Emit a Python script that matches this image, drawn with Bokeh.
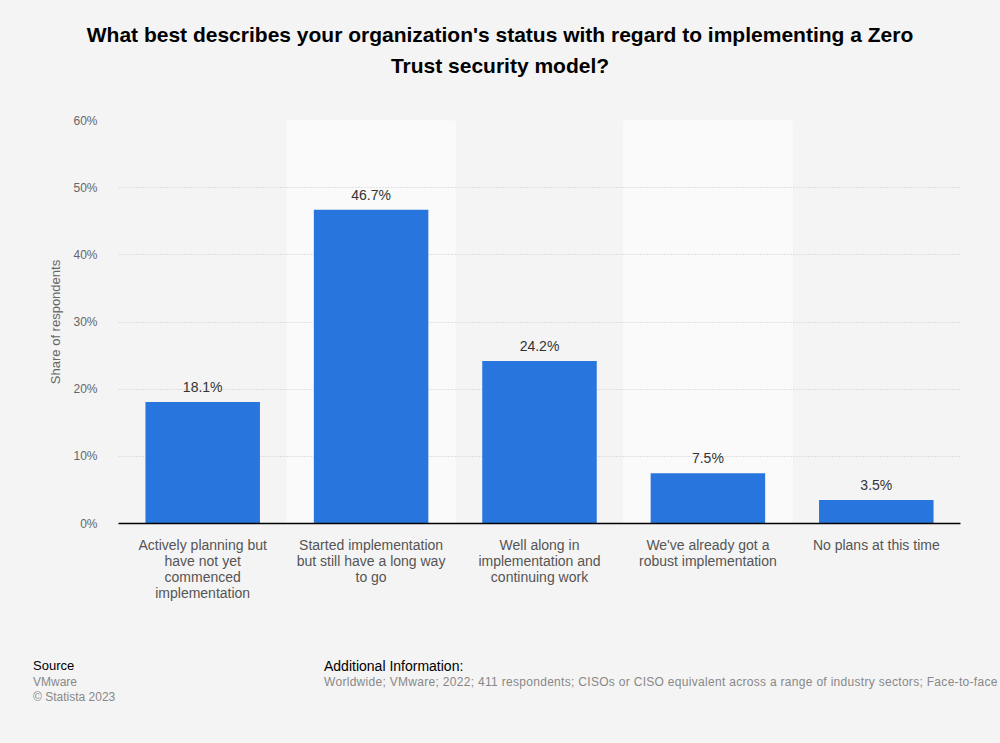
from bokeh.plotting import figure
from bokeh.models import ColumnDataSource, PrintfTickFormatter, FixedTicker, Range1d, Div
from bokeh.layouts import column
from bokeh.core.properties import value
from bokeh.embed import file_html
from bokeh.resources import INLINE

categories = [
    "Actively planning but\nhave not yet\ncommenced\nimplementation",
    "Started implementation\nbut still have a long way\nto go",
    "Well along in\nimplementation and\ncontinuing work",
    "We've already got a\nrobust implementation",
    "No plans at this time",
]
shares = [18.1, 46.7, 24.2, 7.5, 3.5]
y_ticks = [0, 10, 20, 30, 40, 50, 60]
title_lines = ["What best describes your organization's status with regard to implementing a Zero",
               "Trust security model?"]
source_lines = ["VMware", "\u00a9 Statista 2023"]
info_text = ("Worldwide; VMware; 2022; 411 respondents; CISOs or CISO equivalent across a range of "
             "industry sectors; Face-to-face interviews")

FONT = "Liberation Sans"
BG = "#f4f4f4"
W = 1000
TITLE_H = 100
FIG_H = 540
FOOT_H = 103
YMAX = 60

title_div = Div(
    text=(f'<div style="font-family:\'{FONT}\';font-weight:bold;font-size:21px;line-height:31px;'
          f'color:#000;text-align:center;padding-top:19px;width:{W}px;">'
          f'{title_lines[0]}<br>{title_lines[1]}</div>'),
    width=W, height=TITLE_H, margin=0,
    styles={"background-color": BG, "overflow": "hidden"})

p = figure(width=W, height=FIG_H, x_range=categories, y_range=Range1d(0, YMAX),
           output_backend="svg", toolbar_location=None, margin=0,
           min_border_left=118, min_border_right=40, min_border_top=20, min_border_bottom=117)
p.background_fill_color = BG
p.border_fill_color = BG
p.outline_line_color = None

# alternating bands
bands = ColumnDataSource(dict(x=[categories[1], categories[3]], top=[YMAX, YMAX]))
p.vbar(x="x", top="top", width=1.0, source=bands, color="#fafafa", level="image")

src = ColumnDataSource(dict(x=categories, top=shares,
                            lbl=[f"{v:.1f}%" for v in shares]))
p.vbar(x="x", top="top", width=0.68, source=src, fill_color="#2876dd", line_color=None)
p.text(x="x", y="top", text="lbl", source=src, text_align="center", text_baseline="bottom",
       y_offset=-7, text_font=value(FONT), text_font_size="14px", text_color="#333333")

# grid
p.xgrid.grid_line_color = None
p.ygrid.grid_line_color = "#c8c8c8"
p.ygrid.grid_line_dash = "1 2"
p.ygrid.grid_line_width = 1

# y axis
p.yaxis.ticker = FixedTicker(ticks=y_ticks)
p.yaxis.formatter = PrintfTickFormatter(format="%d%%")
p.yaxis.axis_line_color = None
p.yaxis.major_tick_line_color = None
p.yaxis.minor_tick_line_color = None
p.yaxis.major_label_standoff = 15
p.yaxis.major_label_text_font = FONT
p.yaxis.major_label_text_font_size = "12px"
p.yaxis.major_label_text_color = "#666666"
p.yaxis.axis_label = "Share of respondents"
p.yaxis.axis_label_text_font = FONT
p.yaxis.axis_label_text_font_size = "13px"
p.yaxis.axis_label_text_font_style = "normal"
p.yaxis.axis_label_text_color = "#666666"
p.yaxis.axis_label_standoff = 7

# x axis
p.xaxis.axis_line_color = "#000000"
p.xaxis.axis_line_width = 1.5
p.xaxis.major_tick_line_color = None
p.xaxis.minor_tick_line_color = None
p.xaxis.major_label_standoff = 7
p.xaxis.major_label_text_font = FONT
p.xaxis.major_label_text_font_size = "14px"
p.xaxis.major_label_text_color = "#555555"
p.xaxis.major_label_text_line_height = 1.0

footer_html = (
    f'<div style="position:relative;width:{W}px;height:{FOOT_H}px;font-family:\'{FONT}\';'
    f'line-height:16px;overflow:hidden;">'
    f'<div style="position:absolute;left:33px;top:18px;font-size:13px;color:#000;">Source</div>'
    f'<div style="position:absolute;left:33px;top:34px;font-size:12px;color:#888;">{source_lines[0]}</div>'
    f'<div style="position:absolute;left:33px;top:49px;font-size:12px;color:#888;">{source_lines[1]}</div>'
    f'<div style="position:absolute;left:324px;top:18px;font-size:14px;color:#000;">Additional Information:</div>'
    f'<div style="position:absolute;left:324px;top:34px;font-size:12px;letter-spacing:0.3px;color:#888;'
    f'white-space:nowrap;">{info_text}</div>'
    f'</div>')
footer_div = Div(text=footer_html, width=W, height=FOOT_H, margin=0,
                 styles={"background-color": BG, "overflow": "hidden"})

layout = column(title_div, p, footer_div, spacing=0, margin=0,
                styles={"background-color": BG})

open("out.html", "w").write(file_html(layout, INLINE))
